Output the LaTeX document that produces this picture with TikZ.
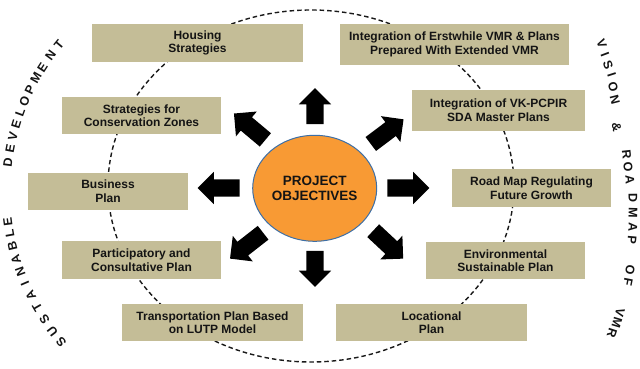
\documentclass[tikz,border=0pt]{standalone}
\usepackage{fontspec}
\setmainfont{Liberation Sans}
\usetikzlibrary{shapes.arrows,shapes.geometric}
\definecolor{boxfill}{HTML}{C4BD97}
\definecolor{orangefill}{HTML}{F89A34}
\definecolor{ellborder}{HTML}{3D6FA6}
\definecolor{txt}{HTML}{141414}
\begin{document}
\begin{tikzpicture}[x=1pt,y=1pt,
  objbox/.style={fill=boxfill, inner sep=0pt, align=center,
    font=\fontsize{12}{13.5}\selectfont\bfseries, text=txt},
  dashline/.style={draw=black!90, line width=1.4pt, dash pattern=on 4.5pt off 3pt},
  blockarrow/.style={shape=single arrow, fill=black, inner xsep=0pt, inner ysep=8.5pt,
    single arrow head extend=7.5pt, single arrow tip angle=90, minimum height=#1},
  sideletter/.style={font=\fontsize{12.5}{14}\selectfont\bfseries, text=txt, inner sep=0pt}]
\useasboundingbox (0,0) rectangle (640,369);
\fill[white] (0,0) rectangle (640,369);

% dashed ring
\draw[dashline] (311,183) ellipse [x radius=203, y radius=176];

% boxes
\node[objbox, minimum width=211pt, minimum height=38pt] (house) at (197.5,326) {Housing\\Strategies};
\node[objbox, minimum width=159pt, minimum height=37pt] (cons) at (141.5,253.5) {Strategies for\\Conservation Zones};
\node[objbox, minimum width=160pt, minimum height=37.5pt] (bus) at (108,177.7) {Business\\Plan};
\node[objbox, minimum width=159pt, minimum height=38pt] (part) at (141.5,109) {Participatory and\\Consultative Plan};
\node[objbox, minimum width=181pt, minimum height=37pt] (trans) at (212.5,46.5) {Transportation Plan Based\\on LUTP Model};
\node[objbox, minimum width=229pt, minimum height=41pt] (erst) at (454.5,324.5) {Integration of Erstwhile VMR \& Plans\\Prepared With Extended VMR};
\node[objbox, minimum width=173pt, minimum height=41pt] (vk) at (498.5,258.7) {Integration of VK-PCPIR\\SDA Master Plans};
\node[objbox, minimum width=159pt, minimum height=37.5pt] (road) at (531.5,181) {Road Map Regulating\\Future Growth};
\node[objbox, minimum width=159pt, minimum height=37pt] (env) at (505.5,108.5) {Environmental\\Sustainable Plan};
\node[objbox, minimum width=191pt, minimum height=37pt] (loc) at (431.5,46.5) {Locational\\Plan};

% centre
\node[ellipse, fill=orangefill, draw=ellborder, line width=1pt, minimum width=124pt, minimum height=106pt,
  inner sep=0pt, align=center, font=\fontsize{13.5}{15}\selectfont\bfseries, text=txt] (obj) at (314.7,180.7) {PROJECT\\OBJECTIVES};

% block arrows
\node[blockarrow=36pt, rotate=90] (aup) at (315,258.5) {};
\node[blockarrow=36pt, rotate=-90] (adown) at (315,104.5) {};
\node[blockarrow=42pt, rotate=0] (aright) at (404,181) {};
\node[blockarrow=42pt, rotate=180] (aleft) at (223,181) {};
\node[blockarrow=41pt, rotate=140] (aul) at (253,239.5) {};
\node[blockarrow=41pt, rotate=37] (aur) at (383.7,234.7) {};
\node[blockarrow=42pt, rotate=218] (all) at (250,126) {};
\node[blockarrow=41pt, rotate=-43] (alr) at (385,127.3) {};

% left curved text
\foreach \ch/\a [count=\i] in {D/172.6, E/169.2, V/166.0, E/162.9, L/159.9, O/156.9, P/153.8, M/150.5, E/147.3, N/143.8, T/140.4,
   S/220.4, U/217.0, S/213.5, T/210.1, A/206.7, I/203.4, N/200.2, A/196.9, B/193.5, L/190.3, E/187.4}
  \node[sideletter, rotate=\a-90] (ls\i) at ([shift={(237,177)}]\a:231) {\ch};

% right curved text
\foreach \ch/\x/\y/\r [count=\i] in {V/601.7/325.7/-67.7, I/605/314/-69.3, S/608/304/-70.8, I/611.7/294/-72.2,
   O/613/282.3/-73.8, N/615/269/-75.7, \&/616.7/242.3/-79.4, R/626.7/214/-83.5, O/628/202.3/-85.1,
   A/630/189/-87, D/633/171/-89.4, M/633/156/-91.5, A/633/142/-93.4, P/632/129/-95.2,
   O/630/99/-99.3, F/628/87/-100.9, V/620/56/-105.3, M/617/46/-106.7, R/612/36/-108.2}
  \node[sideletter, rotate=\r] (rs\i) at (\x,\y) {\ch};
\end{tikzpicture}
\end{document}
